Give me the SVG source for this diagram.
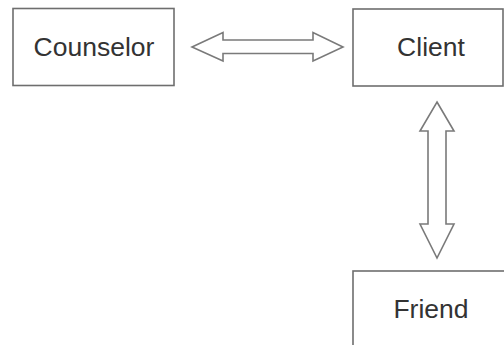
<svg xmlns="http://www.w3.org/2000/svg" width="504" height="345" viewBox="0 0 504 345">
  <style>
    .box { fill: #ffffff; stroke: #6e6e6e; stroke-width: 1.6; }
    .label { font-family: "Liberation Sans", Arial, sans-serif; font-size: 26.5px; fill: #333333; text-anchor: middle; }
    .arrow { fill: #ffffff; stroke: #7a7a7a; stroke-width: 1.6; stroke-linejoin: miter; }
  </style>
  <rect width="504" height="345" fill="#ffffff"/>

  <g id="counselor">
    <rect class="box" x="13" y="8.5" width="161" height="77"/>
    <text class="label" x="94" y="56">Counselor</text>
  </g>

  <g id="client">
    <rect class="box" x="353" y="9" width="150" height="77"/>
    <text class="label" x="431" y="56">Client</text>
  </g>

  <g id="friend">
    <rect class="box" x="353" y="271" width="170" height="100"/>
    <text class="label" x="431" y="318">Friend</text>
  </g>

  <g id="connectors">
    <!-- Counselor <-> Client -->
    <polygon class="arrow" points="192,47 223,32.5 223,40 313,40 313,32.5 343,47 313,61 313,53.5 223,53.5 223,61"/>
    <!-- Client <-> Friend -->
    <polygon class="arrow" points="437,102 454,131 446,131 446,224 454,224 437,258 420,224 428,224 428,131 420,131"/>
  </g>
</svg>
